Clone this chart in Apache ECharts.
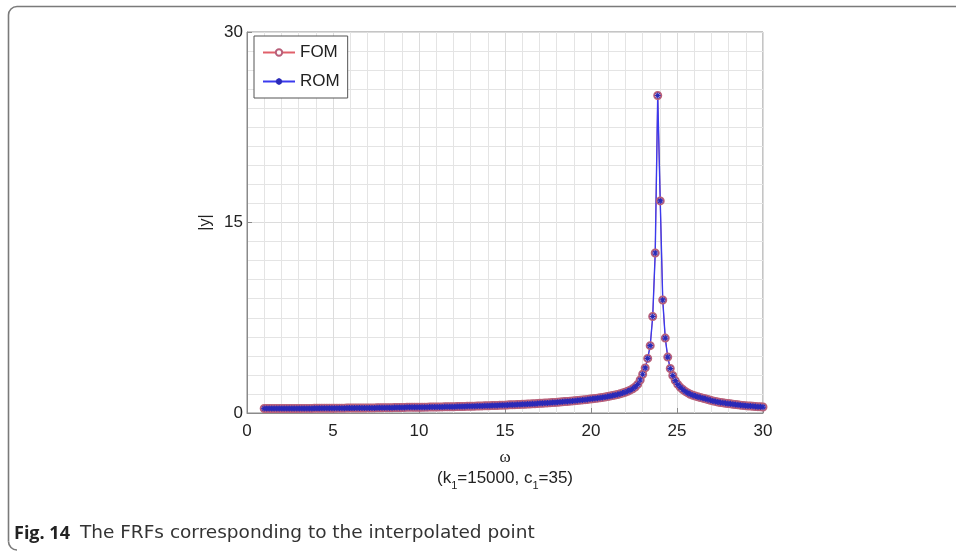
<!DOCTYPE html>
<html>
<head>
<meta charset="utf-8">
<script src="https://cdn.jsdelivr.net/npm/echarts@6/dist/echarts.min.js"></script>
<style>
  html, body { margin: 0; padding: 0; background: #fff; }
  #frf { width: 956px; height: 553px; }
</style>
</head>
<body>
<div id="frf"></div>
<script>
const chartDom = document.querySelector('#frf')
let frfChart = echarts.init(chartDom)

// frequency sweep: 200 samples from 1 to 30 (the MATLAB linspace grid)
const omegaFirst = 1
const omegaLast = 30
const sampleCount = 200
const omega = []
for (let i = 0; i < sampleCount; i++) {
    omega.push(omegaFirst + i * (omegaLast - omegaFirst) / (sampleCount - 1))
}

// |y|, one value per sample
const fomAmp = [
    0.35, 0.35, 0.35, 0.35, 0.35, 0.35, 0.35, 0.35, 0.35, 0.35,
    0.35, 0.35, 0.355, 0.355, 0.355, 0.36, 0.36, 0.36, 0.36, 0.36,
    0.365, 0.365, 0.365, 0.37, 0.37, 0.37, 0.37, 0.375, 0.375, 0.38,
    0.38, 0.38, 0.38, 0.385, 0.385, 0.385, 0.39, 0.39, 0.39, 0.39,
    0.395, 0.395, 0.40, 0.40, 0.40, 0.405, 0.41, 0.41, 0.415, 0.42,
    0.42, 0.42, 0.425, 0.43, 0.43, 0.435, 0.44, 0.45, 0.46, 0.445,
    0.445, 0.45, 0.45, 0.455, 0.46, 0.46, 0.465, 0.47, 0.47, 0.475,
    0.48, 0.48, 0.485, 0.49, 0.49, 0.495, 0.50, 0.505, 0.51, 0.515,
    0.52, 0.525, 0.53, 0.535, 0.54, 0.545, 0.55, 0.56, 0.565, 0.57,
    0.58, 0.585, 0.59, 0.60, 0.605, 0.615, 0.62, 0.63, 0.64, 0.645,
    0.655, 0.665, 0.675, 0.68, 0.69, 0.70, 0.71, 0.72, 0.73, 0.745,
    0.76, 0.77, 0.78, 0.795, 0.81, 0.82, 0.835, 0.85, 0.865, 0.88,
    0.90, 0.915, 0.93, 0.95, 0.97, 0.99, 1.01, 1.03, 1.05, 1.07,
    1.10, 1.12, 1.15, 1.17, 1.20, 1.23, 1.26, 1.29, 1.33, 1.37,
    1.41, 1.46, 1.51, 1.57, 1.63, 1.71, 1.80, 1.91, 2.05, 2.25,
    2.6, 3.05, 3.55, 4.3, 5.3, 7.6, 12.6, 25.0, 16.7, 8.9,
    5.9, 4.4, 3.5, 2.95, 2.55, 2.25, 2.02, 1.85, 1.70, 1.58,
    1.48, 1.40, 1.33, 1.27, 1.22, 1.17, 1.12, 1.06, 1.00, 0.95,
    0.91, 0.87, 0.83, 0.80, 0.77, 0.74, 0.72, 0.69, 0.67, 0.64,
    0.62, 0.60, 0.58, 0.56, 0.545, 0.53, 0.515, 0.50, 0.485, 0.47
]
// the reduced model lies on top of the full one
const romAmp = fomAmp.slice()

function pairs(xs, ys) {
    let out = []
    for (let i = 0; i < xs.length; i++) {
        out.push([xs[i], ys[i]])
    }
    return out
}

const asterisk = 'path://M5,0L5,10M0,5L10,5M1.5,1.5L8.5,8.5M8.5,1.5L1.5,8.5'
const sans = 'Liberation Sans'
const frameStyle = { fill: 'none', stroke: '#7a7a7a', lineWidth: 1.6 }

let option = {
    animation: false,
    backgroundColor: '#fff',
    grid: {
        left: 247,
        right: 193,
        top: 32,
        bottom: 140,
        show: true,
        borderColor: '#8a8a8a',
        borderWidth: 1
    },
    legend: {
        left: 254,
        top: 36,
        orient: 'vertical',
        itemWidth: 32,
        itemHeight: 8,
        itemGap: 12,
        padding: [8, 8, 8, 8],
        borderColor: '#555',
        borderWidth: 1,
        backgroundColor: '#fff',
        textStyle: { fontFamily: sans, fontSize: 17, color: '#222' },
        data: ['FOM', 'ROM']
    },
    xAxis: {
        type: 'value',
        min: 0,
        max: 30,
        interval: 5,
        name: '{w|ω}\n{p|(k}{s|1}{p|=15000, c}{s|1}{p|=35)}',
        nameLocation: 'middle',
        nameGap: 35,
        nameTextStyle: {
            rich: {
                w: { fontFamily: 'Liberation Serif', fontSize: 17, color: '#222', lineHeight: 20, align: 'center' },
                p: { fontFamily: sans, fontSize: 17, color: '#222', lineHeight: 24, verticalAlign: 'top', padding: [2, 0, 0, 0] },
                s: { fontFamily: sans, fontSize: 11, color: '#222', lineHeight: 24, verticalAlign: 'top', padding: [12, 0, 0, 0] }
            }
        },
        axisLine: { show: true, onZero: false, lineStyle: { color: '#8a8a8a' } },
        axisTick: { show: true, inside: true, length: 5, lineStyle: { color: '#8a8a8a' } },
        axisLabel: { fontFamily: sans, fontSize: 17, color: '#222', margin: 10 },
        splitLine: { show: true, lineStyle: { color: '#dcdcdc' } },
        minorTick: { show: false, splitNumber: 5 },
        minorSplitLine: { show: true, lineStyle: { color: '#e4e4e4' } }
    },
    yAxis: {
        type: 'value',
        min: 0,
        max: 30,
        interval: 15,
        name: '|y|',
        nameLocation: 'middle',
        nameRotate: 90,
        nameGap: 33,
        nameTextStyle: { fontFamily: sans, fontSize: 16, color: '#222' },
        axisLine: { show: true, onZero: false, lineStyle: { color: '#8a8a8a' } },
        axisTick: { show: true, inside: true, length: 5, lineStyle: { color: '#8a8a8a' } },
        axisLabel: { fontFamily: sans, fontSize: 17, color: '#222', margin: 4 },
        splitLine: { show: true, lineStyle: { color: '#dcdcdc' } },
        minorTick: { show: false, splitNumber: 10 },
        minorSplitLine: { show: true, lineStyle: { color: '#e4e4e4' } }
    },
    series: [
        {
            name: 'FOM',
            type: 'line',
            data: pairs(omega, fomAmp),
            showSymbol: true,
            showAllSymbol: true,
            symbol: 'emptyCircle',
            symbolSize: 7,
            lineStyle: { color: '#e0606a', width: 1 },
            itemStyle: { color: '#b8607a', borderColor: '#b8607a', borderWidth: 1 }
        },
        {
            name: 'ROM',
            type: 'line',
            data: pairs(omega, romAmp),
            showSymbol: true,
            showAllSymbol: true,
            symbol: asterisk,
            symbolSize: 6,
            lineStyle: { color: '#3a3aee', width: 1.4 },
            itemStyle: { color: 'transparent', borderColor: '#2a2ab8', borderWidth: 1.2 }
        }
    ],
    graphic: [
        { type: 'polyline', shape: { points: [[956, 6.5], [17, 6.5]] }, style: frameStyle },
        { type: 'arc', shape: { cx: 17, cy: 15, r: 8.5, startAngle: Math.PI, endAngle: Math.PI * 1.5, clockwise: true }, style: frameStyle },
        { type: 'polyline', shape: { points: [[8.5, 15], [8.5, 541.5]] }, style: frameStyle },
        { type: 'arc', shape: { cx: 17, cy: 541.5, r: 8.5, startAngle: Math.PI * 0.5, endAngle: Math.PI, clockwise: true }, style: frameStyle },
        {
            type: 'text',
            left: 14,
            top: 524,
            style: {
                text: '{b|Fig. 14}   {n|The FRFs corresponding to the interpolated point}',
                rich: {
                    b: { fontFamily: 'Open Sans', fontWeight: 'bold', fontSize: 18, fill: '#222' },
                    n: { fontFamily: 'DejaVu Sans', fontSize: 18.5, fill: '#333' }
                }
            }
        }
    ]
}

frfChart.setOption(option)
</script>
</body>
</html>
